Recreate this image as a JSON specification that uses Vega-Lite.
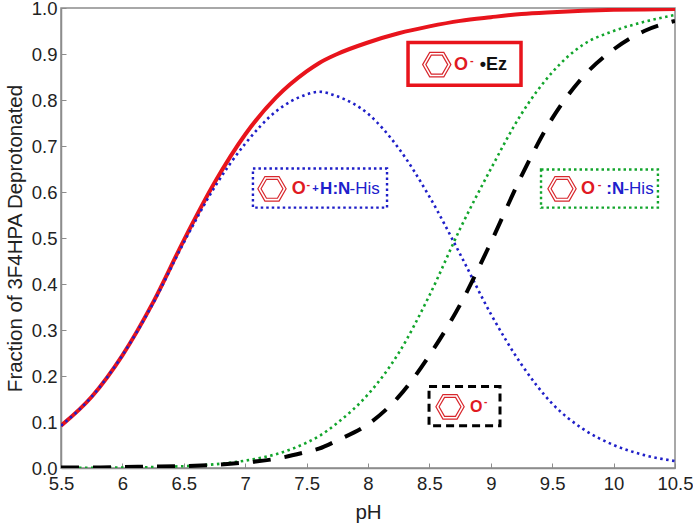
{
"$schema":"https://vega.github.io/schema/vega-lite/v6.json",
"width":614,"height":460,
"autosize":"none",
"padding":{"left":61,"top":8,"right":18,"bottom":60},
"background":"white",
"config":{"font":"Liberation Sans","view":{"stroke":"#8c8c8c","strokeWidth":1.5}},
"datasets":{
"curves":[
{"pH":5.5,"red":0.092,"blue":0.092,"green":0.0003,"black":0.001},
{"pH":5.75,"red":0.155,"blue":0.155,"green":0.0005,"black":0.001},
{"pH":6,"red":0.245,"blue":0.245,"green":0.001,"black":0.002},
{"pH":6.25,"red":0.36,"blue":0.358,"green":0.002,"black":0.003},
{"pH":6.5,"red":0.495,"blue":0.49,"green":0.004,"black":0.004},
{"pH":6.75,"red":0.62,"blue":0.61,"green":0.008,"black":0.007},
{"pH":7,"red":0.725,"blue":0.705,"green":0.016,"black":0.012},
{"pH":7.25,"red":0.805,"blue":0.775,"green":0.03,"black":0.02},
{"pH":7.5,"red":0.862,"blue":0.812,"green":0.055,"black":0.035},
{"pH":7.6,"red":0.88,"blue":0.818,"green":0.069,"black":0.042},
{"pH":7.75,"red":0.9,"blue":0.808,"green":0.098,"black":0.06},
{"pH":8,"red":0.925,"blue":0.77,"green":0.16,"black":0.095},
{"pH":8.25,"red":0.945,"blue":0.695,"green":0.25,"black":0.155},
{"pH":8.5,"red":0.96,"blue":0.59,"green":0.375,"black":0.245},
{"pH":8.75,"red":0.972,"blue":0.465,"green":0.52,"black":0.355},
{"pH":9,"red":0.98,"blue":0.335,"green":0.65,"black":0.49},
{"pH":9.25,"red":0.987,"blue":0.225,"green":0.77,"black":0.635},
{"pH":9.5,"red":0.991,"blue":0.14,"green":0.86,"black":0.76},
{"pH":9.75,"red":0.994,"blue":0.085,"green":0.92,"black":0.85},
{"pH":10,"red":0.996,"blue":0.05,"green":0.95,"black":0.91},
{"pH":10.25,"red":0.997,"blue":0.028,"green":0.97,"black":0.95},
{"pH":10.5,"red":0.998,"blue":0.015,"green":0.985,"black":0.972}
],
"labels":[
{"x":7.38,"y":0.607,"t":"O","c":"#e01a22","s":18,"b":1},
{"x":7.5,"y":0.615,"t":"-","c":"#e01a22","s":11,"b":1},
{"x":7.545,"y":0.607,"t":"+","c":"#2020cc","s":11,"b":1},
{"x":7.61,"y":0.607,"t":"H:N","c":"#2020cc","s":17,"b":1},
{"x":7.85,"y":0.607,"t":"-His","c":"#2020cc","s":17,"b":0},
{"x":9.735,"y":0.607,"t":"O","c":"#e01a22","s":18,"b":1},
{"x":9.87,"y":0.615,"t":"-","c":"#e01a22","s":11,"b":1},
{"x":9.94,"y":0.607,"t":":N","c":"#2020cc","s":17,"b":1},
{"x":10.08,"y":0.607,"t":"-His","c":"#2020cc","s":17,"b":0},
{"x":8.83,"y":0.133,"t":"O","c":"#e01a22","s":16,"b":1},
{"x":8.945,"y":0.143,"t":"-","c":"#e01a22","s":10,"b":1},
{"x":8.7,"y":0.877,"t":"O","c":"#e01a22","s":18,"b":1},
{"x":8.83,"y":0.885,"t":"-","c":"#e01a22","s":11,"b":1},
{"x":8.91,"y":0.877,"t":"•Ez","c":"#111111","s":18,"b":1}
],
"rings":[
{"x":7.218,"y":0.607},{"x":9.58,"y":0.607},{"x":8.668,"y":0.133},{"x":8.56,"y":0.877}
]
},
"layer":[
{"data":{"name":"curves"},"mark":{"type":"line","color":"#e8141c","strokeWidth":4,"interpolate":"monotone","clip":true},
 "encoding":{
  "x":{"field":"pH","type":"quantitative","scale":{"domain":[5.5,10.5],"nice":false},"title":"pH",
   "axis":{"values":[5.5,6,6.5,7,7.5,8,8.5,9,9.5,10,10.5],"format":"~g","grid":false,"domainColor":"#8c8c8c","domainWidth":1.5,"tickColor":"#8c8c8c","tickSize":-5,"labelFontSize":18.5,"labelColor":"#222222","labelPadding":11,"labelAngle":0,"labelFlush":false,"labelBound":false,"labelOverlap":false,"titleFontSize":20.5,"titleFontWeight":"normal","titleColor":"#222222","titlePadding":10}},
  "y":{"field":"red","type":"quantitative","scale":{"domain":[0,1],"nice":false},"title":"Fraction of 3F4HPA Deprotonated",
   "axis":{"values":[0,0.1,0.2,0.3,0.4,0.5,0.6,0.7,0.8,0.9,1],"format":".1f","grid":false,"domainColor":"#8c8c8c","domainWidth":1.5,"tickColor":"#8c8c8c","tickSize":-5,"labelFontSize":18.5,"labelColor":"#222222","labelPadding":9,"labelFlush":false,"labelBound":false,"labelOverlap":false,"titleFontSize":20.5,"titleFontWeight":"normal","titleColor":"#222222","titlePadding":6}}
 }},
{"data":{"name":"curves"},"mark":{"type":"line","color":"#1f1fc8","strokeWidth":2.6,"strokeDash":[2.5,3.5],"interpolate":"monotone","clip":true},
 "encoding":{"x":{"field":"pH","type":"quantitative"},"y":{"field":"blue","type":"quantitative"}}},
{"data":{"name":"curves"},"mark":{"type":"line","color":"#12a52c","strokeWidth":2.6,"strokeDash":[2.5,3.5],"interpolate":"monotone","clip":true},
 "encoding":{"x":{"field":"pH","type":"quantitative"},"y":{"field":"green","type":"quantitative"}}},
{"data":{"name":"curves"},"mark":{"type":"line","color":"#000000","strokeWidth":4,"strokeDash":[18,14],"interpolate":"monotone","clip":true},
 "encoding":{"x":{"field":"pH","type":"quantitative"},"y":{"field":"black","type":"quantitative"}}},
{"data":{"values":[{"x":8.326,"x2":9.246,"y":0.832,"y2":0.925}]},"mark":{"type":"rect","fill":"white","stroke":"#e8141c","strokeWidth":3.5},
 "encoding":{"x":{"field":"x","type":"quantitative"},"x2":{"field":"x2"},"y":{"field":"y","type":"quantitative"},"y2":{"field":"y2"}}},
{"data":{"values":[{"x":7.063,"x2":8.155,"y":0.566,"y2":0.651}]},"mark":{"type":"rect","fill":"white","stroke":"#1f1fc8","strokeWidth":2.4,"strokeDash":[2.5,3]},
 "encoding":{"x":{"field":"x","type":"quantitative"},"x2":{"field":"x2"},"y":{"field":"y","type":"quantitative"},"y2":{"field":"y2"}}},
{"data":{"values":[{"x":9.409,"x2":10.361,"y":0.566,"y2":0.649}]},"mark":{"type":"rect","fill":"white","stroke":"#12a52c","strokeWidth":2.4,"strokeDash":[2.5,3]},
 "encoding":{"x":{"field":"x","type":"quantitative"},"x2":{"field":"x2"},"y":{"field":"y","type":"quantitative"},"y2":{"field":"y2"}}},
{"data":{"values":[{"x":8.497,"x2":9.075,"y":0.092,"y2":0.177}]},"mark":{"type":"rect","fill":"white","stroke":"#000000","strokeWidth":3,"strokeDash":[8,5]},
 "encoding":{"x":{"field":"x","type":"quantitative"},"x2":{"field":"x2"},"y":{"field":"y","type":"quantitative"},"y2":{"field":"y2"}}},
{"data":{"name":"rings"},"mark":{"type":"point","shape":"M-1,0L-0.5,-0.866L0.5,-0.866L1,0L0.5,0.866L-0.5,0.866Z","size":800,"filled":false,"stroke":"#d8262c","strokeWidth":1.2,"opacity":1},
 "encoding":{"x":{"field":"x","type":"quantitative"},"y":{"field":"y","type":"quantitative"}}},
{"data":{"name":"rings"},"mark":{"type":"point","shape":"M-1,0L-0.5,-0.866L0.5,-0.866L1,0L0.5,0.866L-0.5,0.866Z","size":480,"filled":false,"stroke":"#d8262c","strokeWidth":1.2,"opacity":1},
 "encoding":{"x":{"field":"x","type":"quantitative"},"y":{"field":"y","type":"quantitative"}}},
{"data":{"name":"labels"},"transform":[{"filter":"datum.b==1"}],"mark":{"type":"text","align":"left","baseline":"middle","fontWeight":"bold"},
 "encoding":{"x":{"field":"x","type":"quantitative"},"y":{"field":"y","type":"quantitative"},"text":{"field":"t"},"color":{"field":"c","type":"nominal","scale":null},"size":{"field":"s","type":"quantitative","scale":null}}},
{"data":{"name":"labels"},"transform":[{"filter":"datum.b==0"}],"mark":{"type":"text","align":"left","baseline":"middle"},
 "encoding":{"x":{"field":"x","type":"quantitative"},"y":{"field":"y","type":"quantitative"},"text":{"field":"t"},"color":{"field":"c","type":"nominal","scale":null},"size":{"field":"s","type":"quantitative","scale":null}}}
]
}
